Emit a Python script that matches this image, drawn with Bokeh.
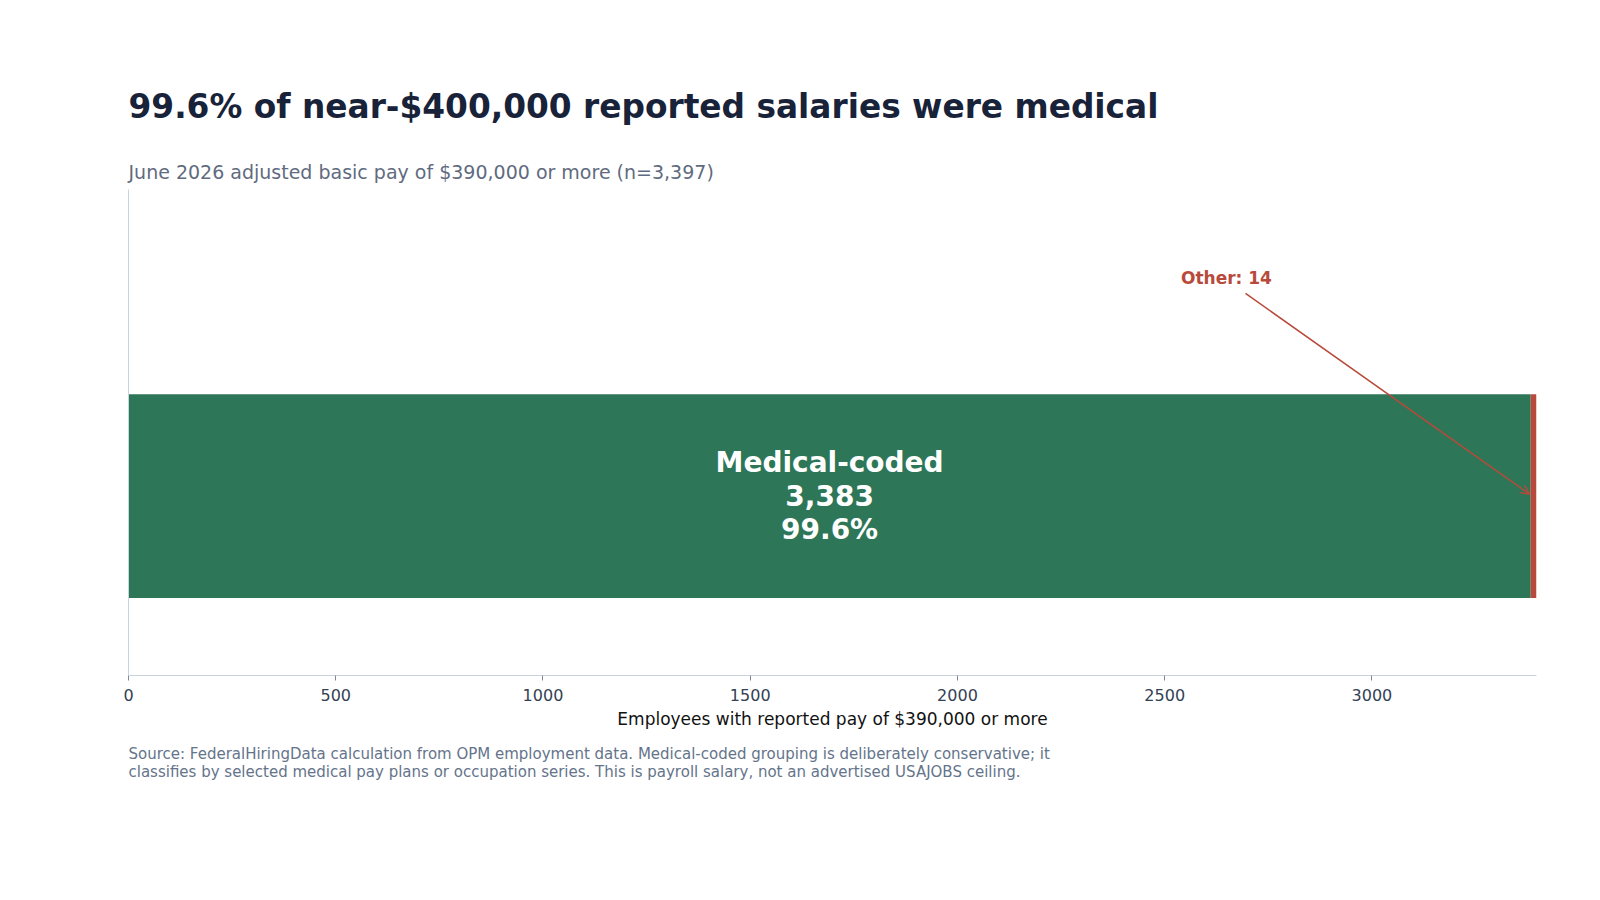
from bokeh.plotting import figure
from bokeh.models import Label, Arrow, OpenHead, Range1d, FixedTicker, ColumnDataSource, Title
from bokeh.embed import file_html
from bokeh.resources import INLINE

categories = ["Medical-coded", "Other"]
counts = [3383, 14]
total = 3397
shares = ["99.6%", "0.4%"]
colors = ["#2e7658", "#b84a3b"]
x_ticks = [0, 500, 1000, 1500, 2000, 2500, 3000]

title_text = "99.6% of near-$400,000 reported salaries were medical"
subtitle_text = "June 2026 adjusted basic pay of $390,000 or more (n=3,397)"
x_label = "Employees with reported pay of $390,000 or more"
source_lines = [
    "Source: FederalHiringData calculation from OPM employment data. Medical-coded grouping is deliberately conservative; it",
    "classifies by selected medical pay plans or occupation series. This is payroll salary, not an advertised USAJOBS ceiling.",
]

FONT = "DejaVu Sans"
W, H = 1584, 884

lefts = [0, counts[0]]
rights = [counts[0], counts[0] + counts[1]]
src = ColumnDataSource(dict(left=lefts, right=rights, y=[0, 0], color=colors))

p = figure(width=W, height=H, output_backend="svg", toolbar_location=None,
           x_range=Range1d(0, total), y_range=Range1d(-0.704, 1.204),
           min_border_left=128, min_border_right=48, min_border_top=189, min_border_bottom=209)
p.outline_line_color = None
p.xgrid.grid_line_color = None
p.ygrid.grid_line_color = None
p.background_fill_color = "white"
p.border_fill_color = "white"

p.hbar(y="y", left="left", right="right", height=0.8, color="color", source=src, line_color=None)

# x axis
xa = p.xaxis[0]
xa.ticker = FixedTicker(ticks=x_ticks)
xa.axis_line_color = "#cbd2e0"
xa.major_tick_line_color = "#7d8797"
xa.major_tick_out = 5
xa.major_tick_in = 0
xa.minor_tick_line_color = None
xa.major_label_text_font = FONT
xa.major_label_text_font_size = "16px"
xa.major_label_text_color = "#334155"
xa.major_label_standoff = 8
xa.axis_label = x_label
xa.axis_label_text_font = FONT
xa.axis_label_text_font_size = "17px"
xa.axis_label_text_font_style = "normal"
xa.axis_label_text_color = "#111111"
xa.axis_label_standoff = 5

ya = p.yaxis[0]
ya.axis_line_color = "#cbd2e0"
ya.major_tick_line_color = None
ya.minor_tick_line_color = None
ya.major_label_text_font_size = "0px"
ya.major_label_text_color = None

# bar label
med_text = f"{categories[0]}\n{counts[0]:,}\n{shares[0]}"
p.add_layout(Label(x=counts[0] / 2, y=0, text=med_text, text_align="center", text_baseline="middle",
                   text_color="white", text_font=FONT, text_font_size="28px", text_font_style="bold",
                   text_line_height=1.02))

# annotation for Other
p.add_layout(Arrow(end=OpenHead(size=9, line_color=colors[1], line_width=1.5),
                   x_start=2695, y_start=0.796, x_end=counts[0] - 3, y_end=0.008,
                   line_color=colors[1], line_width=1.5))
p.add_layout(Label(x=2649, y=0.858, text=f"{categories[1]}: {counts[1]}", text_align="center",
                   text_baseline="alphabetic", text_color=colors[1], text_font=FONT,
                   text_font_size="17px", text_font_style="bold"))

# titles above the frame (first added is nearest to the frame)
p.add_layout(Title(text=subtitle_text, align="left", text_font=FONT, text_font_size="19px",
                   text_font_style="normal", text_color="#5f6b80", standoff=14), "above")
p.add_layout(Title(text=title_text, align="left", text_font=FONT, text_font_size="32.8px",
                   text_font_style="bold", text_color="#182238", standoff=52), "above")
# source note below the axis
p.add_layout(Title(text="\n".join(source_lines), align="left", text_font=FONT, text_font_size="15px",
                   text_font_style="normal", text_color="#64748b", text_line_height=1.05,
                   standoff=22), "below")

open("out.html", "w").write(file_html(p, INLINE))
